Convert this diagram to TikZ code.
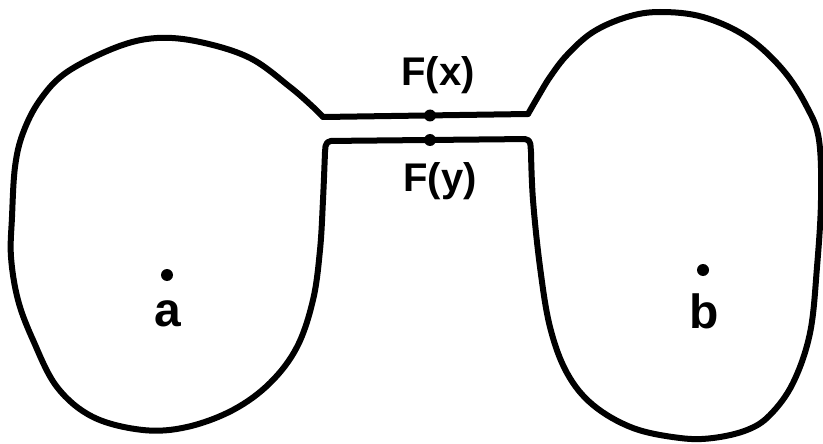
\documentclass[tikz,border=0pt]{standalone}
\usepackage{fontspec}
\setmainfont{Liberation Sans}
\begin{document}
\begin{tikzpicture}[x=1pt,y=-1pt,
  outline/.style={line width=6pt, line join=round, line cap=round},
  dot/.style={circle, fill, inner sep=0pt, minimum size=12pt},
  lab/.style={font=\bfseries\fontsize{40}{42}\selectfont, inner sep=0pt},
  ptlab/.style={font=\bfseries\fontsize{48}{50}\selectfont, inner sep=0pt}]
\useasboundingbox (0,0) rectangle (823,444);
% left blob
\draw[outline] plot[smooth, tension=0.6] coordinates {(323,117) (313,107) (290,87) (250,58) (200,42) (157,38) (117,47) (67,72) (40,100) (23,133) (15,167) (12,217) (11,257) (18,300) (33,340) (57,387) (93,417) (143,430) (187,427) (233,410) (270,383) (297,347) (313,300) (320,250) (323,200) (325,152)};
% channel bottom line
\draw[outline, rounded corners=5pt] (325,152) -- (326,141) -- (530,139) -- (531,152);
% right blob
\draw[outline] plot[smooth, tension=0.6] coordinates {(531,152) (533,200) (540,267) (550,327) (567,373) (593,405) (633,428) (680,438) (713,438) (747,430) (770,415) (793,383) (810,333) (817,267) (821,200) (819,140) (807,107) (783,70) (747,37) (703,17) (660,12) (627,17) (593,32) (567,55) (550,77) (539,95) (528,114)};
% channel top line
\draw[outline] (528,114) -- (323,117);
% dots and labels
\node[dot] (fx) at (430,115.5) {};
\node[dot] (fy) at (430,140) {};
\node[lab] (lfx) at (438,75) {F(x)};
\node[lab] (lfy) at (440,181) {F(y)};
\node[dot] (a) at (167,275) {};
\node[ptlab] (la) at (168,314) {a};
\node[dot] (b) at (703,270) {};
\node[ptlab] (lb) at (704,311) {b};
\end{tikzpicture}
\end{document}
